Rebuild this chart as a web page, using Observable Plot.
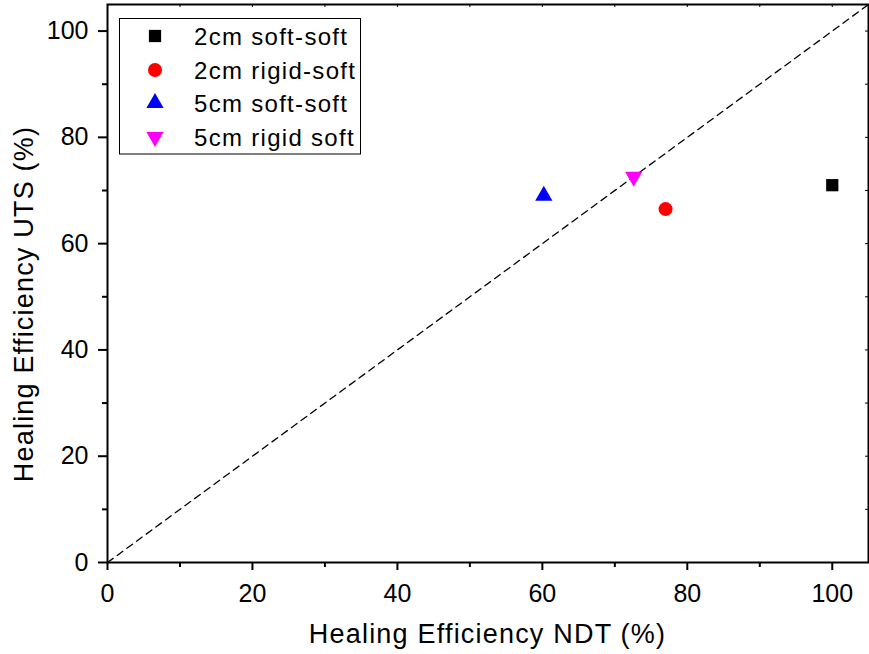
<!DOCTYPE html>
<html>
<head>
<meta charset="utf-8">
<script src="https://cdn.jsdelivr.net/npm/d3@7"></script>
<script src="https://cdn.jsdelivr.net/npm/@observablehq/plot@0.6"></script>
<style>
  html, body { margin: 0; padding: 0; background: #fff; }
  #chart svg { display: block; }
</style>
</head>
<body>
<div id="chart"></div>
<script>
// ---- data ----
const seriesNames = ["2cm soft-soft", "2cm rigid-soft", "5cm soft-soft", "5cm rigid soft"];
const ndtValues  = [100, 77, 60.2, 72.6];   // Healing Efficiency NDT (%)
const utsValues  = [71, 66.5, 69.0, 72.6];  // Healing Efficiency UTS (%)
const seriesColors = ["#000000", "#ff0000", "#0000ff", "#ff00ff"];
const xMajorTicks = [0, 20, 40, 60, 80, 100];
const xMinorTicks = [10, 30, 50, 70, 90];
const yMajorTicks = [0, 20, 40, 60, 80, 100];
const yMinorTicks = [10, 30, 50, 70, 90];
const axisDomain = [0, 105];
const diagonal = [0, 105];
const xTitle = "Healing Efficiency NDT (%)";
const yTitle = "Healing Efficiency UTS (%)";

// ---- symbols ----
const downTriangle = {
  draw(context, size) {
    const y = -Math.sqrt(size / (Math.sqrt(3) * 3));
    context.moveTo(0, -2 * y);
    context.lineTo(-Math.sqrt(3) * y, y);
    context.lineTo(Math.sqrt(3) * y, y);
    context.closePath();
  }
};
const seriesSymbols = [d3.symbolSquare, d3.symbolCircle, d3.symbolTriangle, downTriangle];
const seriesR = [6.9, 7, 6.4, 6.4];

const rows = seriesNames.map((name, i) => ({name, x: ndtValues[i], y: utsValues[i], i}));
const diagData = diagonal.map(v => ({x: v, y: v}));

const W = 869, H = 654;
const mL = 107, mR = 1, mT = 4, mB = 92;
const plotW = W - mL - mR, plotH = H - mT - mB;
const font = "'Liberation Sans', Arial, Helvetica, sans-serif";

const chart = Plot.plot({
  width: W,
  height: H,
  marginLeft: mL,
  marginRight: mR,
  marginTop: mT,
  marginBottom: mB,
  style: {fontFamily: font, color: "#000", background: "#fff"},
  x: {domain: axisDomain},
  y: {domain: axisDomain},
  marks: [
    Plot.line(diagData, {x: "x", y: "y", stroke: "#000", strokeWidth: 1.3, strokeDasharray: "7,5"}),
    ...rows.map(r => Plot.dot([r], {x: "x", y: "y", symbol: seriesSymbols[r.i], r: seriesR[r.i], fill: seriesColors[r.i], stroke: "none"})),
    Plot.axisX({ticks: xMajorTicks, tickSize: 8, tickPadding: 14, fontSize: 25, label: null, strokeWidth: 2}),
    Plot.axisX({ticks: xMinorTicks, tickSize: 5, text: null, label: null, strokeWidth: 2}),
    Plot.axisY({ticks: yMajorTicks, tickSize: 9, tickPadding: 10, fontSize: 25, label: null, strokeWidth: 2}),
    Plot.axisY({ticks: yMinorTicks, tickSize: 5, text: null, label: null, strokeWidth: 2}),
    Plot.tickX(xMajorTicks.concat(xMinorTicks), {x: d => d, insetBottom: plotH - 3, stroke: "#000", strokeWidth: 1}),
    Plot.tickY(yMajorTicks.concat(yMinorTicks), {y: d => d, insetLeft: plotW - 3, stroke: "#000", strokeWidth: 1}),
    Plot.frame({stroke: "#000", strokeWidth: 2})
  ]
});

document.getElementById("chart").appendChild(chart);

// ---- axis titles and legend ----
const svg = d3.select(chart);
svg.append("text")
  .attr("x", mL + plotW / 2)
  .attr("y", 643)
  .attr("text-anchor", "middle")
  .attr("font-family", font)
  .attr("font-size", 27)
  .attr("letter-spacing", "1.2px")
  .attr("fill", "#000")
  .text(xTitle);
svg.append("text")
  .attr("transform", `translate(33,304) rotate(-90)`)
  .attr("text-anchor", "middle")
  .attr("font-family", font)
  .attr("font-size", 27)
  .attr("letter-spacing", "1.2px")
  .attr("fill", "#000")
  .text(yTitle);

const legend = svg.append("g").attr("text-anchor", "start");
legend.append("rect")
  .attr("x", 119.5).attr("y", 18.5)
  .attr("width", 241).attr("height", 135.5)
  .attr("fill", "#fff").attr("stroke", "#000").attr("stroke-width", 1);
const rowY = [36, 70, 103, 137];
seriesNames.forEach((name, i) => {
  const size = Math.PI * seriesR[i] * seriesR[i];
  legend.append("path")
    .attr("transform", `translate(155,${rowY[i]})`)
    .attr("d", d3.symbol(seriesSymbols[i], size)())
    .attr("fill", seriesColors[i]);
  legend.append("text")
    .attr("x", 194)
    .attr("y", rowY[i] + 9)
    .attr("text-anchor", "start")
    .attr("font-family", font)
    .attr("font-size", 24)
    .attr("letter-spacing", "1.3px")
    .attr("fill", "#000")
    .text(name);
});
</script>
</body>
</html>
